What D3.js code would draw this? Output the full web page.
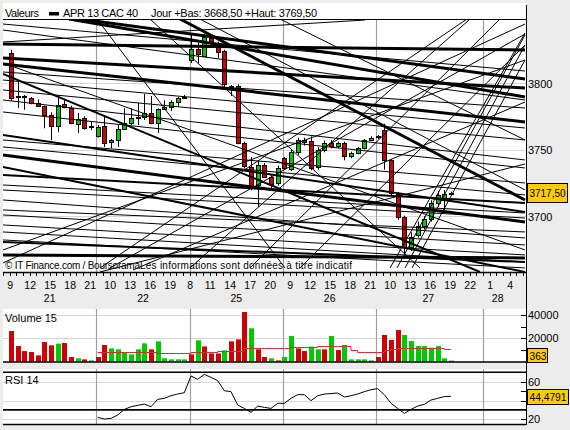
<!DOCTYPE html>
<html><head><meta charset="utf-8">
<script src="https://cdn.jsdelivr.net/npm/d3@7"></script>
<style>
body{margin:0;background:#ececec;}
svg{display:block;}
text{font-family:"Liberation Sans",Arial,sans-serif;fill:#000;}
</style></head>
<body><svg id="c" width="570" height="430"></svg>
<script>
// ---------- DATA ----------
// hourly candles, slot 1 .. 67 (slot = hours since 21st 08:00, 14 slots per trading day)
const firstSlot = 1;
const candleOpen = [3822.5,3790,3790,3788.75,3785,3782.75,3776,3767.5,3784.25,3781,3769.25,3774,3767.5,
  3760,3767.75,3756,3757.25,3765.5,3770,3774,3774.5,3777.5,3770,3780.5,3782,3785.75,3788.75,
  3816.75,3825.25,3820.25,3833.5,3830.25,3824.25,3797.5,3797.75,3754.75,3737.25,3723.5,3738.5,3729.75,3724.75,
  3743.5,3736,3748.5,3757.25,3756.5,3737.25,3749.75,3754.75,3752.5,3754.75,3744.75,3747.25,3751,3757.25,
  3759,3764.75,3742.25,3716.75,3699.75,3677.25,3686,3692.75,3697.75,3709.75,3712,3716.5];
const candleHigh = [3825,3801.5,3791,3789.5,3787.75,3783,3778,3791,3787,3783,3777.5,3775,3771,
  3768.5,3776,3758,3768.5,3781,3781,3785,3791.75,3790.25,3781,3787,3787,3789.5,3791,
  3836,3830.25,3837,3836,3831,3825,3798.5,3799,3756,3744.5,3742,3740,3731,3738,
  3744.5,3750,3759,3759,3760,3752,3757,3757,3756,3756,3748.5,3752,3758,3760,
  3761,3769.5,3743,3718,3700.5,3688,3696,3700,3712,3719,3719.75,3718.5];
const candleLow = [3786.5,3781.25,3780,3784,3782,3766,3757,3763,3781,3769,3762.5,3765,3764.75,
  3759,3752,3751,3752,3764.75,3768.5,3768.5,3772.25,3769,3762.5,3780,3779,3782,3788,
  3815,3815,3820,3829,3818.75,3797,3790.25,3754,3736,3719.5,3707,3729,3719.75,3723,
  3735,3734,3746,3753,3734.5,3735,3748,3751,3751,3742,3743.5,3746.5,3750,3756.5,
  3758,3735,3716,3697.5,3668.5,3674,3684,3690,3696,3707,3704.75,3716];
const candleClose = [3788.75,3789.5,3789,3785,3782.75,3776,3767.75,3783.5,3782,3770,3773,3766.25,3767.75,
  3767,3755,3757.25,3765.5,3770,3773.75,3774.5,3777.5,3770,3780.5,3782,3785.75,3788.75,3789.5,
  3825.25,3821.75,3834.25,3831,3823.5,3799.25,3798,3754.75,3737.25,3722.25,3738.5,3729.75,3724.75,3736,
  3736,3748.5,3757.25,3756,3736,3749.75,3754.75,3752.25,3754.75,3744.75,3747.25,3751,3757.25,3759,
  3760,3742.25,3717.25,3699.75,3677.25,3684.75,3692.75,3697.75,3709.75,3716,3716.5,3717.5];

const volume = [26300,13400,9100,8300,5400,16900,14000,15400,16000,4000,2900,2000,1100,
  4000,14300,11400,10600,8300,6300,10600,15700,10600,17400,2900,2000,2000,2000,
  6300,18300,13100,7100,7100,9700,17400,19100,42600,28600,10600,4000,2900,1100,
  4000,22000,11400,9100,12900,10600,10600,22000,10000,14300,2000,2000,2000,1100,
  4000,22900,18600,27100,22900,17700,13400,13400,12000,13400,2900,363];
// g = volume bar drawn green, r = red (one letter per bar)
const volumeColor = "rrrrrrrgrrgrg" + "rrggggggrgggg" + "grgrrrgrrrgrrg" + "rggrrggrgrgggg" + "grrrrggggggg";

// 15-period volume average, slots 14 .. 67
const volAvgFirstSlot = 14;
const volumeAvg = [8400,8400,8200,8200,8100,8100,8000,8000,8000,7800,7600,7600,7600,7600,
  8000,8000,8000,8000,9000,9300,9300,9300,11500,11500,11500,11600,11600,11800,
  12000,12900,12900,12900,12900,13500,13500,13500,13500,13500,10000,8000,8000,8000,
  8000,10000,11000,12000,12000,12000,12000,12000,12000,12000,11000,10600];

// RSI 14, slots 14 .. 67
const rsiFirstSlot = 14;
const rsi = [22.1,20.3,21.0,24.5,30.5,33.4,34.8,36.2,33.4,41.2,42.3,45.1,46.9,48.3,
  66.1,62.5,67.8,64.6,61.1,50.4,49.4,35.2,31.6,27.4,34.1,32.7,31.6,37.0,
  37.0,42.3,46.2,46.2,39.8,45.1,46.9,47.3,48.0,43.7,45.1,46.9,49.4,51.5,
  52.6,46.2,37.0,31.6,26.3,30.5,34.1,35.9,40.5,42.3,44.1,44.4791];

// time axis
const timeLabelSlots = d3.range(1, 79, 3);
const timeLabels = ["9","12","15","18","21","10","13","16","19","8","11","14","17","20",
  "9","12","15","18","21","10","13","16","19","22","1","4"];
const dayBoundarySlots = [14, 28, 42, 56, 72];
const dateLabels = ["21","22","25","26","27","28"];
const dateLabelSlots = [7, 21, 35, 49, 63.8, 74.2];

const priceTicks = [3800, 3750, 3700];
const volumeTicks = [40000, 20000];
const volumeMinorTicks = [40000, 30000, 20000, 10000];
const rsiTicks = [60, 20];
const rsiGrid = [60, 40, 20];
const rsiMinorTicks = [60, 50, 40, 20];
const rsiBands = [70, 30];

const lastPrice = 3717.5, lastVolume = 363, lastRsi = 44.4791;
const headerTitle = "Valeurs", headerSeries = "APR 13 CAC 40";
const headerInfo = "Jour +Bas: 3668,50 +Haut: 3769,50";

// drawn trendlines: [slotA, priceA, slotB, priceB]
const trendThick = [
  [0,3829.25, 78.3,3824.75],
  [11.55,3848, 78.3,3803],
  [9.9,3848, 78.3,3789.5],
  [0,3818.75, 78.3,3796.25],
  [0,3814.25, 78.3,3770.75],
  [0,3746, 78.3,3695.75],
  [0,3671, 78.3,3668.75],
  [26.55,3848, 78.3,3712.25]
];
const trendMedium = [
  [0,3806.75, 71.55,3658.25],
  [0,3737, 78.3,3658.25],
  [0,3761, 78.3,3703.25],
  [0,3731, 78.3,3710],
  [0,3680.75, 78.3,3665.75]
];
const trendThin = [
  [0,3844.25, 78.3,3809],
  [0,3830.75, 54.3,3847.25],
  [0,3839.75, 78.3,3787.25],
  [0,3808.25, 78.3,3781.25],
  [0,3802.25, 78.3,3766.25],
  [0,3794.75, 78.3,3757.25],
  [0,3787.25, 78.3,3742.25],
  [0,3778.25, 78.3,3736.25],
  [0,3757.25, 78.3,3725],
  [0,3752, 78.3,3716],
  [0,3723.5, 78.3,3702.5],
  [0,3719.75, 78.3,3698.75],
  [0,3712.25, 78.3,3683.75],
  [0,3704.75, 78.3,3688.25],
  [0,3701, 78.3,3678.5],
  [0,3693.5, 78.3,3671],
  [0,3688.25, 78.3,3665.75],
  [0,3682.25, 78.3,3661.25],
  [0,3815, 78.3,3674.75],
  [14.1,3848, 42.3,3661.25],
  [29.55,3848, 78.3,3719.75],
  [41.55,3848, 78.3,3757.25],
  [22.05,3848, 62.55,3661.25],
  [28.05,3661.25, 70.05,3848],
  [37.05,3661.25, 74.55,3848],
  [44.55,3661.25, 78.3,3828.5],
  [14.55,3658.25, 78.3,3739.25],
  [19.5,3659.75, 78.3,3785.75],
  [14.55,3661.25, 69.6,3848],
  [0,3665, 78.3,3844.25],
  [16.05,3661.25, 78.3,3836.75],
  [0,3674.75, 78.3,3817.25],
  [58.05,3661.25, 78.3,3837.5],
  [59.1,3661.25, 78.3,3836],
  [60.3,3661.25, 78.3,3828.5],
  [61.35,3661.25, 78.3,3817.25]
];

// ---------- DRAW ----------
const RED = "#cc0000", GREEN = "#00c800", YEL = "#ffcc00";
const svg = d3.select("#c");
const L = 3, R = 526;
const main = {top:19, bottom:272}, vol = {top:309, bottom:362}, rp = {top:369, bottom:425};

const x = d3.scaleLinear().domain([0, 78.3]).range([3, 525]);
const y = d3.scaleLinear().domain([3700, 3800]).range([216.3, 83]);
const yv = d3.scaleLinear().domain([0, 40000]).range([361.7, 315]);
const yr = d3.scaleLinear().domain([20, 60]).range([419.3, 381.7]);
const cx = s => Math.round(x(s + 0.2));

// panels
svg.append("rect").attr("x",L).attr("y",3).attr("width",R-L).attr("height",16).attr("fill","#fff");
[main, vol, rp].forEach((p,i) => {
  svg.append("rect").attr("x",L).attr("y",p.top).attr("width",R-L).attr("height",p.bottom-p.top).attr("fill","#fff");
  svg.append("clipPath").attr("id","clip"+i).append("rect")
    .attr("x",L).attr("y",p.top).attr("width",R-L).attr("height",p.bottom-p.top);
});

// grids
const gridColor = "#d6d6d6", dayColor = "#a0a0a0";
const gMain = svg.append("g").attr("clip-path","url(#clip0)");
gMain.selectAll(".hg").data(priceTicks).join("line")
  .attr("x1",L).attr("x2",R).attr("y1",d=>Math.round(y(d))+0.5).attr("y2",d=>Math.round(y(d))+0.5)
  .attr("stroke",gridColor);
const gVol = svg.append("g").attr("clip-path","url(#clip1)");
gVol.selectAll(".hg").data(volumeTicks).join("line")
  .attr("x1",L).attr("x2",R).attr("y1",d=>Math.round(yv(d))+0.5).attr("y2",d=>Math.round(yv(d))+0.5)
  .attr("stroke",gridColor);
const gRsi = svg.append("g").attr("clip-path","url(#clip2)");
gRsi.selectAll(".hg").data(rsiGrid).join("line")
  .attr("x1",L).attr("x2",R).attr("y1",d=>Math.round(yr(d))+0.5).attr("y2",d=>Math.round(yr(d))+0.5)
  .attr("stroke",gridColor);
[[gMain,main],[gVol,vol],[gRsi,rp]].forEach(([g,p]) => {
  g.selectAll(".vg").data(dayBoundarySlots).join("line")
    .attr("x1",d=>Math.round(x(d))+0.5).attr("x2",d=>Math.round(x(d))+0.5)
    .attr("y1",p.top).attr("y2",p.bottom).attr("stroke",dayColor).attr("stroke-width",1.2);
});

// candles
const candles = candleOpen.map((o,i) => ({s:firstSlot+i, o, h:candleHigh[i], l:candleLow[i], c:candleClose[i]}));
const gc = gMain.append("g");
gc.selectAll(".wick").data(candles).join("line")
  .attr("x1",d=>cx(d.s)+0.5).attr("x2",d=>cx(d.s)+0.5)
  .attr("y1",d=>y(d.h)).attr("y2",d=>y(d.l)).attr("stroke","#000");
gc.selectAll(".body").data(candles).join("rect")
  .attr("x",d=>cx(d.s)-1.5).attr("width",4)
  .attr("y",d=>Math.round(y(Math.max(d.o,d.c)))+0.5)
  .attr("height",d=>Math.max(1, Math.round(Math.abs(y(d.o)-y(d.c)))))
  .attr("fill",d=>d.c>=d.o?GREEN:RED).attr("stroke","#000");

// trendlines
[[trendThick,3],[trendMedium,2],[trendThin,1]].forEach(([arr,w]) => {
  gMain.append("g").selectAll("line").data(arr).join("line")
    .attr("x1",d=>x(d[0])).attr("y1",d=>y(d[1])).attr("x2",d=>x(d[2])).attr("y2",d=>y(d[3]))
    .attr("stroke","#000").attr("stroke-width",w);
});

// watermark
svg.append("text").attr("x",5).attr("y",269).attr("font-size",10).attr("textLength",135)
  .text("© IT Finance.com / Boursorama");
svg.append("text").attr("x",140).attr("y",269).attr("font-size",10).attr("textLength",212)
  .text("Les informations sont données à titre indicatif");

// volume bars
gVol.selectAll(".vb").data(volume).join("rect")
  .attr("x",(d,i)=>cx(firstSlot+i)-2).attr("width",5)
  .attr("y",d=>Math.min(yv(d), yv(0)-1)).attr("height",d=>Math.max(1, yv(0)-yv(d)))
  .attr("fill",(d,i)=>volumeColor[i]==="g"?GREEN:RED);
gVol.append("path").datum(volumeAvg)
  .attr("d", d3.line().x((d,i)=>x(volAvgFirstSlot+i+0.2)).y(d=>Math.round(yv(d))+0.5).curve(d3.curveStepAfter))
  .attr("fill","none").attr("stroke","#d03030").attr("stroke-width",1);

// RSI line
gRsi.selectAll(".band").data(rsiBands).join("line")
  .attr("x1",L).attr("x2",R).attr("y1",d=>yr(d)).attr("y2",d=>yr(d)).attr("stroke","#000").attr("stroke-width",1.6);
gRsi.append("path").datum(rsi)
  .attr("d", d3.line().x((d,i)=>x(rsiFirstSlot+i+0.2)).y(d=>yr(d)))
  .attr("fill","none").attr("stroke","#000").attr("stroke-width",1);

// borders
svg.append("line").attr("x1",L).attr("x2",R).attr("y1",19.5).attr("y2",19.5).attr("stroke","#000");
svg.append("line").attr("x1",L).attr("x2",R).attr("y1",main.bottom+0.5).attr("y2",main.bottom+0.5).attr("stroke","#000").attr("stroke-width",1.5);
svg.append("line").attr("x1",L).attr("x2",R).attr("y1",362).attr("y2",362).attr("stroke","#000").attr("stroke-width",1.6);
svg.append("line").attr("x1",L).attr("x2",R).attr("y1",424.5).attr("y2",424.5).attr("stroke","#000").attr("stroke-width",1.6);
svg.append("line").attr("x1",R+0.5).attr("x2",R+0.5).attr("y1",5).attr("y2",425).attr("stroke","#000");

// time axis
svg.append("g").selectAll("line").data(d3.range(0,79)).join("line")
  .attr("x1",d=>Math.round(x(d))+0.5).attr("x2",d=>Math.round(x(d))+0.5)
  .attr("y1",main.bottom).attr("y2",main.bottom+4).attr("stroke","#000");
svg.append("g").selectAll("text").data(timeLabels).join("text")
  .attr("x",(d,i)=>x(timeLabelSlots[i])+0.5).attr("y",289).attr("text-anchor","middle")
  .attr("font-size",10.5).text(d=>d);
svg.append("g").selectAll("text").data(dateLabels).join("text")
  .attr("x",(d,i)=>x(dateLabelSlots[i])).attr("y",302).attr("text-anchor","middle")
  .attr("font-size",10.5).text(d=>d);

// right axes
svg.append("g").selectAll("text").data(priceTicks).join("text")
  .attr("x",528).attr("y",d=>y(d)+4.5).attr("font-size",11).text(d=>d);
svg.append("g").selectAll("line").data(volumeMinorTicks).join("line")
  .attr("x1",521).attr("x2",R).attr("y1",d=>Math.round(yv(d))+0.5).attr("y2",d=>Math.round(yv(d))+0.5).attr("stroke","#000");
svg.append("g").selectAll("text").data(volumeTicks).join("text")
  .attr("x",528).attr("y",d=>yv(d)+4).attr("font-size",11).text(d=>d);
svg.append("g").selectAll("line").data(rsiMinorTicks).join("line")
  .attr("x1",521).attr("x2",R).attr("y1",d=>Math.round(yr(d))+0.5).attr("y2",d=>Math.round(yr(d))+0.5).attr("stroke","#000");
svg.append("g").selectAll("text").data(rsiTicks).join("text")
  .attr("x",528).attr("y",d=>yr(d)+4).attr("font-size",11).text(d=>d);

// value boxes
function box(cy, w, h, label, tl, minY, maxY){
  let top = Math.round(cy - h/2);
  top = Math.max(minY, Math.min(maxY - h, top));
  svg.append("rect").attr("x",527.5).attr("y",top+0.5).attr("width",w).attr("height",h)
    .attr("fill",YEL).attr("stroke","#000");
  svg.append("text").attr("x",529.5).attr("y",top+h/2+4.5).attr("font-size",11.5)
    .attr("textLength",tl).attr("lengthAdjust","spacingAndGlyphs").text(label);
}
box(y(lastPrice), 40, 19, d3.format(".2f")(lastPrice).replace(".",","), 36, 19, 272);
box(yv(lastVolume), 20, 14, String(lastVolume), 17, 309, 362);
box(yr(lastRsi), 41, 15, String(lastRsi).replace(".",","), 37, 369, 425);

// panel labels & header
svg.append("text").attr("x",5).attr("y",322).attr("font-size",11).text("Volume 15");
svg.append("text").attr("x",5).attr("y",384).attr("font-size",11).text("RSI 14");
svg.append("text").attr("x",5).attr("y",17).attr("font-size",11).attr("textLength",34).text(headerTitle);
svg.append("rect").attr("x",49).attr("y",12).attr("width",10).attr("height",3.5).attr("fill","#000");
svg.append("text").attr("x",63).attr("y",17).attr("font-size",11).attr("textLength",75).text(headerSeries);
svg.append("text").attr("x",151).attr("y",17).attr("font-size",11).attr("textLength",166).text(headerInfo);
</script></body></html>
